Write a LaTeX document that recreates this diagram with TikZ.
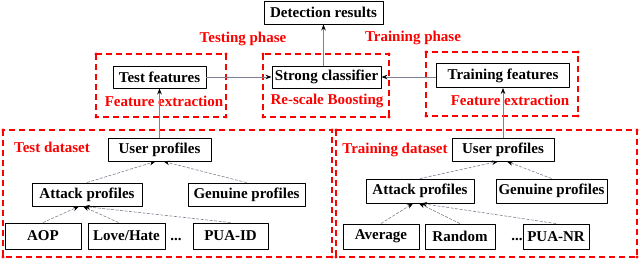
\documentclass[tikz,border=0pt]{standalone}
\usepackage{fontspec}
\setmainfont{Liberation Serif}
\usetikzlibrary{arrows.meta}

\definecolor{linkgray}{RGB}{128,128,148}
\tikzset{
  box/.style={draw=black,line width=0.9pt,fill=white,inner sep=0pt,font=\bfseries\fontsize{15}{17}\selectfont},
  lbl/.style={text=red,inner sep=0pt,font=\bfseries\fontsize{15}{17}\selectfont},
  region/.style={draw=red,dash pattern=on 6pt off 4pt,line width=1.2pt},
  link/.style={draw=linkgray,line width=0.8pt,-{Stealth[black,length=6pt,width=4.5pt]}},
  tree/.style={link,dash pattern=on 3pt off 1.5pt,line width=0.6pt}
}

\begin{document}
\begin{tikzpicture}[x=1pt,y=-1pt,line join=round]
  \useasboundingbox (0,0) rectangle (640,260);
  \foreach \xa/\ya/\xb/\yb in {96/54/226/117,263/54/389/117,426/52/578/116,3/130/332/257,336/130/637/257} {
    \draw[region] (\xa,\ya) rectangle (\xb,\yb);
    \foreach \p in {(\xa,\ya),(\xb,\ya),(\xa,\yb),(\xb,\yb)}
      \fill[red] \p circle[radius=1.6pt];
  }
  \node[box,minimum width=119pt,minimum height=23pt] (det) at (323.5,12.5) {Detection results};
  \node[lbl] (testph) at (243,39) {Testing phase};
  \node[lbl] (trainph) at (413,38) {Training phase};
  \node[box,minimum width=93pt,minimum height=22pt] (testfeat) at (159.5,77) {Test features};
  \node[box,minimum width=109pt,minimum height=22pt] (strong) at (326.5,77) {Strong classifier};
  \node[box,minimum width=133pt,minimum height=24pt] (trainfeat) at (503,75.5) {Training features};
  \node[lbl] (testfe) at (164,101) {Feature extraction};
  \node[lbl] (boost) at (327,101) {Re-scale Boosting};
  \node[lbl] (trainfe) at (510,100) {Feature extraction};
  \node[lbl] (testds) at (52,147) {Test dataset};
  \node[lbl] (trainds) at (395,150) {Training dataset};
  \node[box,minimum width=103pt,minimum height=23pt] (testuser) at (159.5,149.5) {User profiles};
  \node[box,minimum width=110pt,minimum height=23pt] (testatt) at (87,194.5) {Attack profiles};
  \node[box,minimum width=117pt,minimum height=23pt] (testgen) at (246.5,194.5) {Genuine profiles};
  \node[box,minimum width=76pt,minimum height=26pt] (aop) at (43,236) {AOP};
  \node[box,minimum width=77pt,minimum height=26pt] (lovehate) at (126.5,236) {Love/Hate};
  \node[inner sep=0pt,font=\bfseries\fontsize{15}{17}\selectfont] (testdots) at (176,239) {...};
  \node[box,minimum width=75pt,minimum height=26pt] (puaid) at (230.5,236) {PUA-ID};
  \node[box,minimum width=102pt,minimum height=23pt] (trainuser) at (503,149.5) {User profiles};
  \node[box,minimum width=108pt,minimum height=24pt] (trainatt) at (420,191) {Attack profiles};
  \node[box,minimum width=111pt,minimum height=24pt] (traingen) at (551.5,191) {Genuine profiles};
  \node[box,minimum width=76pt,minimum height=25pt] (average) at (381,236.5) {Average};
  \node[box,minimum width=70pt,minimum height=25pt] (random) at (460,236.5) {Random};
  \node[inner sep=0pt,font=\bfseries\fontsize{15}{17}\selectfont] (traindots) at (517,239) {...};
  \node[box,minimum width=66pt,minimum height=25pt] (puanr) at (556,236.5) {PUA-NR};
  \draw[link] (det.south |- strong.north) -- (det.south);
  \draw[link] (testfeat) -- (strong);
  \draw[link] (trainfeat.west |- strong.east) -- (strong.east);
  \draw[link] (testuser) -- (testfeat);
  \draw[link] (trainuser) -- (trainfeat);
  \draw[tree] (testatt.north) -- ([xshift=-4pt]testuser.south);
  \draw[tree] (testgen.north) -- ([xshift=4pt]testuser.south);
  \draw[tree] (aop.north) -- ([xshift=-8pt]testatt.south);
  \draw[tree] ([xshift=-8pt]lovehate.north) -- ([xshift=-4pt]testatt.south);
  \draw[tree] (puaid.north) -- ([xshift=-3pt]testatt.south);
  \draw[tree] (trainatt.north) -- ([xshift=-5pt]trainuser.south);
  \draw[tree] (traingen.north) -- ([xshift=4pt]trainuser.south);
  \draw[tree] (average.north) -- ([xshift=-7pt]trainatt.south);
  \draw[tree] (random.north) -- ([xshift=-1pt]trainatt.south);
  \draw[tree] (puanr.north) -- ([xshift=1pt]trainatt.south);
\end{tikzpicture}
\end{document}
